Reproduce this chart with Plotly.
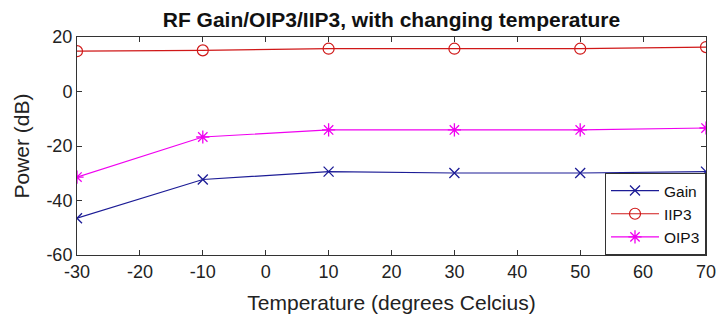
import plotly.graph_objects as go

temperature = [-30, -10, 10, 30, 50, 70]
gain = [-46.5, -32.3, -29.4, -29.9, -29.9, -29.4]
iip3 = [14.8, 15.1, 15.7, 15.7, 15.7, 16.3]
oip3 = [-31.4, -16.7, -14.1, -14.1, -14.1, -13.4]
x_ticks = [-30, -20, -10, 0, 10, 20, 30, 40, 50, 60, 70]
y_ticks = [-60, -40, -20, 0, 20]

FONT = "Liberation Sans, Arial, sans-serif"

fig = go.Figure()
fig.add_trace(go.Scatter(x=temperature, y=gain, name="Gain", mode="lines+markers",
                         line=dict(color="#1c1c96", width=1.2),
                         marker=dict(symbol="x-thin-open", size=10,
                                     line=dict(color="#1c1c96", width=1.3))))
fig.add_trace(go.Scatter(x=temperature, y=iip3, name="IIP3", mode="lines+markers",
                         line=dict(color="#d01818", width=1.2),
                         marker=dict(symbol="circle-open", size=11,
                                     line=dict(color="#d01818", width=1.2))))
fig.add_trace(go.Scatter(x=temperature, y=oip3, name="OIP3", mode="lines+markers",
                         line=dict(color="#f000f0", width=1.2),
                         marker=dict(symbol="asterisk-open", size=11,
                                     line=dict(color="#f000f0", width=1.3))))

axis_common = dict(showgrid=False, zeroline=False, showline=True, linecolor="#333333",
                   linewidth=1, mirror="ticks", ticks="inside", ticklen=5,
                   tickcolor="#333333", ticklabeloverflow="allow",
                   tickfont=dict(family=FONT, size=18, color="#222222"))

fig.update_xaxes(range=[-30, 70], tickvals=x_ticks, ticktext=[str(v) for v in x_ticks],
                 title=dict(text="Temperature (degrees Celcius)", standoff=14,
                            font=dict(family=FONT, size=21, color="#222222")),
                 **axis_common)
fig.update_yaxes(range=[-60, 20], tickvals=y_ticks, ticktext=[str(v) for v in y_ticks],
                 title=dict(text="Power (dB)", standoff=11,
                            font=dict(family=FONT, size=21, color="#222222")),
                 **axis_common)

fig.update_layout(
    width=716, height=322,
    margin=dict(l=77, r=10, t=37, b=67, autoexpand=False),
    paper_bgcolor="white", plot_bgcolor="white",
    title=dict(text="<b>RF Gain/OIP3/IIP3, with changing temperature</b>",
               xref="paper", x=0.5, xanchor="center",
               yref="container", y=0.938, yanchor="middle",
               font=dict(family=FONT, size=21, color="#111111")),
    showlegend=True,
    legend=dict(x=1, y=0, xanchor="right", yanchor="bottom",
                bgcolor="white", bordercolor="#333333", borderwidth=1,
                font=dict(family=FONT, size=15.5, color="#111111"),
                tracegroupgap=0, itemwidth=48),
)

fig.write_html("out.html", config={"displayModeBar": False},
               post_script="document.body.style.margin='0';")
